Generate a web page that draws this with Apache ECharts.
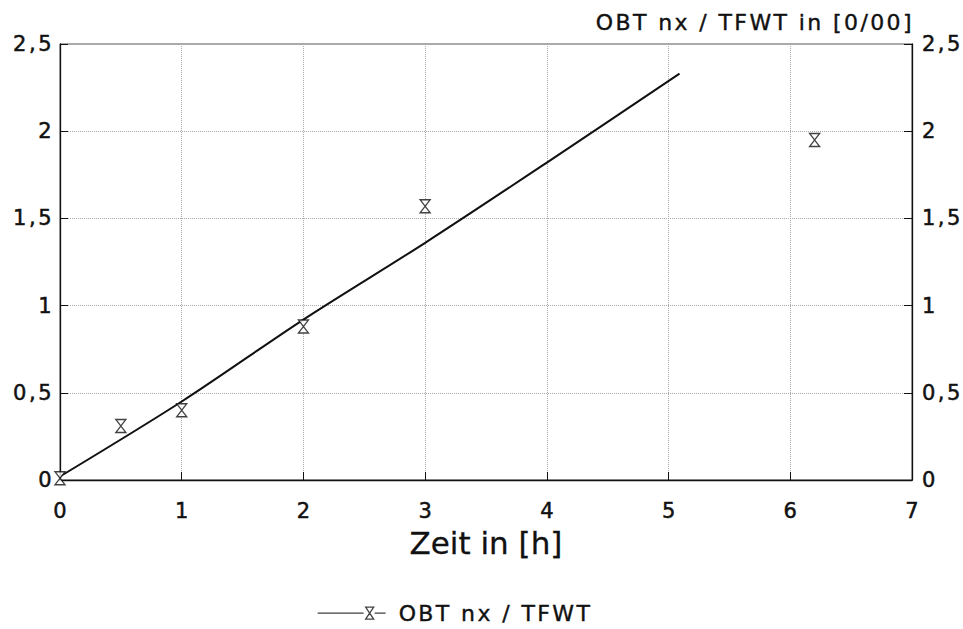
<!DOCTYPE html>
<html>
<head>
<meta charset="utf-8">
<script src="https://cdn.jsdelivr.net/npm/echarts@6/dist/echarts.min.js"></script>
<style>
  html, body { margin: 0; padding: 0; background: #fff; }
  #chart { width: 963px; height: 629px; }
  /* breite Laufweite wie im Original */
  #chart text[style*="21px"] { letter-spacing: 2.5px; }
  #chart text[style*="22px"] { letter-spacing: 2.4px; }
  #chart text[style*="31px"] { letter-spacing: 0px; }
</style>
</head>
<body>
<div id="chart"></div>
<script>
// Messpunkte OBT nx / TFWT
const zeitPunkte = [0, 0.5, 1, 2, 3, 6.2];
const obtWerte = [0.01, 0.31, 0.40, 0.88, 1.57, 1.95];
// Ausgleichskurve
const kurveZeit = [0, 1, 2, 3, 4, 5.09];
const kurveWerte = [0.02, 0.45, 0.92, 1.36, 1.82, 2.33];
const xTicks = [0, 1, 2, 3, 4, 5, 6, 7];
const yTicks = [0, 0.5, 1, 1.5, 2, 2.5];
const serienName = "OBT nx / TFWT";
const achsenTitel = "OBT nx / TFWT in [0/00]";
const xTitel = "Zeit in [h]";

const hourglass = "path://M0,0 L10,0 L5,7 L10,14 L0,14 L5,7 Z";
const legendIcon = "path://M0,6 L46,6 M48,0 L56,0 L52,6 L56,12 L48,12 L52,6 Z M57,6 L68,6";

function komma(v) {
  return String(v).replace(".", ",");
}

const font = "DejaVu Sans, sans-serif";
// etwas kraeftigere Schrift
const dick = { textBorderColor: "#111", textBorderWidth: 0.5 };

let myChart = echarts.init(document.getElementById("chart"), null, { renderer: "svg" });
myChart.setOption({
  animation: false,
  backgroundColor: "#fff",
  graphic: [{
    type: "text",
    x: 914,
    y: 22,
    style: {
      text: achsenTitel,
      fill: "#111",
      stroke: "#111",
      lineWidth: 0.4,
      fontFamily: font,
      fontSize: 22,
      textAlign: "right",
      textVerticalAlign: "middle",
      align: "right",
      verticalAlign: "middle"
    }
  }],
  grid: {
    left: 60,
    right: 51,
    top: 44,
    bottom: 149,
    show: true,
    borderColor: "#555",
    borderWidth: 1
  },
  legend: {
    left: 312,
    top: 597,
    itemWidth: 68,
    itemHeight: 12,
    textStyle: Object.assign({ fontFamily: font, fontSize: 22, color: "#111", padding: [0, 0, 0, 8] }, { textBorderColor: "#111", textBorderWidth: 0.4 }),
    data: [{
      name: serienName,
      icon: legendIcon,
      itemStyle: { color: "#fff", borderColor: "#111", borderWidth: 1.3 }
    }]
  },
  xAxis: {
    type: "value",
    min: xTicks[0],
    max: xTicks[xTicks.length - 1],
    interval: 1,
    name: xTitel,
    nameLocation: "middle",
    nameGap: 47,
    nameTextStyle: { fontFamily: font, fontSize: 31, color: "#111", textBorderColor: "#111", textBorderWidth: 0.3 },
    axisLine: { show: true, onZero: false, lineStyle: { color: "#111", width: 1.3 } },
    axisTick: { show: true, inside: true, length: 8, lineStyle: { color: "#111" } },
    axisLabel: Object.assign({ fontFamily: font, fontSize: 21, color: "#111", margin: 20, padding: [0, 0, 0, 2.5] }, dick),
    splitLine: { show: true, lineStyle: { color: "#aaa", type: "dotted" } }
  },
  yAxis: [
    {
      type: "value",
      min: yTicks[0],
      max: yTicks[yTicks.length - 1],
      interval: 0.5,
      axisLine: { show: true, lineStyle: { color: "#111", width: 1.3 } },
      axisTick: { show: true, inside: true, length: 8, lineStyle: { color: "#111" } },
      axisLabel: Object.assign({ fontFamily: font, fontSize: 21, color: "#111", margin: 6, padding: [6, 0, 0, 0], formatter: komma }, dick),
      splitLine: { show: true, lineStyle: { color: "#aaa", type: "dotted" } }
    },
    {
      type: "value",
      position: "right",
      min: yTicks[0],
      max: yTicks[yTicks.length - 1],
      interval: 0.5,
      axisLine: { show: true, lineStyle: { color: "#111", width: 1.3 } },
      axisTick: { show: true, inside: true, length: 8, lineStyle: { color: "#111" } },
      axisLabel: Object.assign({ fontFamily: font, fontSize: 21, color: "#111", margin: 10, padding: [6, 0, 0, 0], formatter: komma }, dick),
      splitLine: { show: false }
    }
  ],
  series: [
    {
      name: "Kurve",
      type: "line",
      data: kurveZeit.map((x, i) => [x, kurveWerte[i]]),
      showSymbol: false,
      smooth: 0.3,
      lineStyle: { color: "#111", width: 2 },
      z: 2
    },
    {
      name: serienName,
      type: "scatter",
      data: zeitPunkte.map((x, i) => [x, obtWerte[i]]),
      symbol: hourglass,
      symbolSize: [10, 13],
      itemStyle: { color: "#fff", borderColor: "#111", borderWidth: 1.3 },
      z: 3
    }
  ]
});
</script>
</body>
</html>
